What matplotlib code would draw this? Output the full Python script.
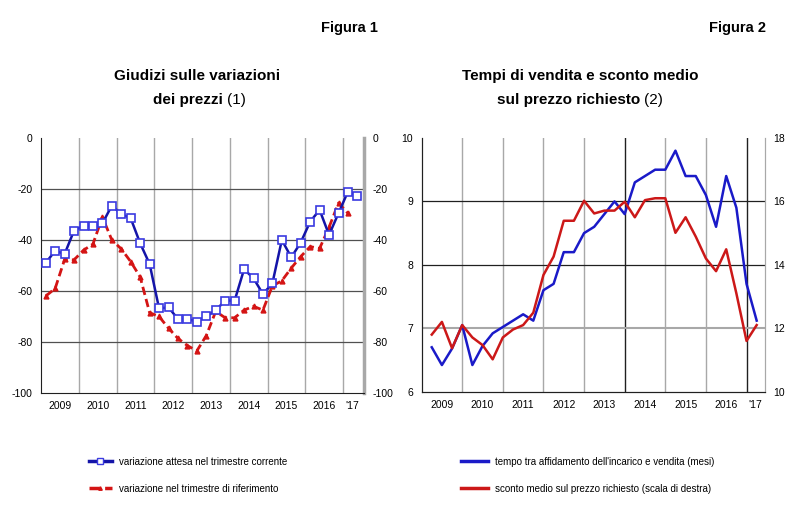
import numpy as np
import matplotlib.pyplot as plt
from matplotlib.lines import Line2D

plt.rcParams['font.family'] = ['Liberation Sans Narrow', 'Liberation Sans', 'DejaVu Sans']
plt.rcParams['axes.unicode_minus'] = False

# =========================
# Dati (trimestrali)
# =========================
anni = ['2009', '2010', '2011', '2012', '2013', '2014', '2015', '2016', "'17"]

# Figura 1: 2009T1-2017T2 (attesa), 2009T1-2017T1 (riferimento)
var_attesa = [-49, -44.2, -45.5, -36.3,
              -34.5, -34.5, -33.5, -26.5,
              -29.8, -31.5, -41.3, -49.4,
              -66.8, -66.4, -71, -71,
              -72, -70, -67.5, -63.8,
              -63.8, -51.5, -55, -61.2,
              -57, -40, -46.8, -41,
              -32.8, -28.2, -38, -29.5,
              -21, -22.7]
var_riferimento = [-62, -59, -47.6, -47.8,
                   -44, -41.6, -31, -40,
                   -43.5, -48.5, -54.5, -68.5,
                   -70, -74.6, -78.6, -81.4,
                   -83.5, -77.5, -68, -70.5,
                   -70.5, -67.5, -66, -67.5,
                   -58, -56, -51, -46.5,
                   -42.6, -43.3, -35, -25.5,
                   -29.5]

# Figura 2: 2009T1-2017T1
tempo_vendita = [6.70, 6.42, 6.68, 7.05,
                 6.42, 6.72, 6.92, 7.02,
                 7.12, 7.22, 7.12, 7.6,
                 7.7, 8.2, 8.2, 8.5,
                 8.6, 8.8, 9.0, 8.8,
                 9.3, 9.4, 9.5, 9.5,
                 9.8, 9.4, 9.4, 9.1,
                 8.6, 9.4, 8.9, 7.7,
                 7.12]
sconto_medio = [11.8, 12.2, 11.37, 12.1,
                11.71, 11.47, 11.02, 11.71,
                11.96, 12.1, 12.49, 13.68,
                14.26, 15.39, 15.39, 16.02,
                15.62, 15.71, 15.71, 15.99,
                15.5, 16.04, 16.1, 16.1,
                15.01, 15.5, 14.89, 14.2,
                13.8, 14.49, 13.1, 11.6,
                12.1]

blu = '#1414a8'
rosso = '#d41414'
fs_tick = 7.5

fig = plt.figure(figsize=(8, 5.09), dpi=100)

# =========================
# Figura 1
# =========================
ax1 = fig.add_axes([0.05125, 0.2279, 0.40375, 0.501])
x_att = np.arange(len(var_attesa)) + 0.5
x_rif = np.arange(len(var_riferimento)) + 0.5

for q in range(4, 33, 4):
    ax1.axvline(q, color='#a8a8a8', lw=1.0, zorder=1)
for v in [-20, -40, -60, -80]:
    ax1.axhline(v, color='#505050', lw=0.9, zorder=1)

ax1.plot(x_rif, var_riferimento, color=rosso, lw=2, ls=(0, (3, 1.5)),
         marker='^', ms=3.5, mfc=rosso, mec=rosso, zorder=3)
ax1.plot(x_att, var_attesa, color=blu, lw=1.8, marker='s', ms=5.6,
         mfc='white', mec='#3a3ae0', mew=1.2, zorder=4)

ax1.set_xlim(0, 34.2)
ax1.set_ylim(-100, 0)
ax1.set_yticks([0, -20, -40, -60, -80, -100])
ax1.set_xticks(list(np.arange(2, 32, 4)) + [33], anni)
ax1.tick_params(length=0, labelsize=fs_tick, labelright=True, pad=6)
ax1.spines['top'].set_visible(False)
ax1.spines['right'].set_color('#a8a8a8')
ax1.spines['right'].set_linewidth(2.5)
ax1.spines['left'].set_color('#202020')
ax1.spines['bottom'].set_color('#202020')

# =========================
# Figura 2
# =========================
ax2 = fig.add_axes([0.527, 0.2305, 0.429, 0.4984])
ax2b = ax2.twinx()
x2 = np.arange(len(tempo_vendita)) + 1.0

for q in range(4, 33, 4):
    c = '#202020' if q in (20, 32) else '#a8a8a8'
    ax2.axvline(q, color=c, lw=1.0, zorder=1)
ax2.axhline(9, color='#202020', lw=0.9, zorder=1)
ax2.axhline(8, color='#202020', lw=0.9, zorder=1)
ax2.axhline(7, color='#a8a8a8', lw=1.5, zorder=1)

ax2.plot(x2, tempo_vendita, color='#1a1ac8', lw=1.8, zorder=3)
ax2b.plot(x2, sconto_medio, color='#cc1818', lw=1.8, zorder=3)

ax2.set_xlim(0, 33.8)
ax2.set_ylim(6, 10)
ax2b.set_ylim(10, 18)
ax2.set_yticks([6, 7, 8, 9, 10])
ax2b.set_yticks([10, 12, 14, 16, 18])
ax2.set_xticks(list(np.arange(2, 32, 4)) + [32.9], anni)
ax2.tick_params(length=0, labelsize=fs_tick, pad=6)
ax2b.tick_params(length=0, labelsize=fs_tick, pad=6)
for a in (ax2, ax2b):
    a.spines['top'].set_visible(False)
    a.spines['right'].set_color('#a8a8a8')
    a.spines['left'].set_color('#202020')
    a.spines['bottom'].set_color('#202020')

# =========================
# Titoli
# =========================
fig.text(0.472, 0.945, 'Figura 1', fontsize=10.5, fontweight='bold', ha='right', va='center')
fig.text(0.958, 0.945, 'Figura 2', fontsize=10.5, fontweight='bold', ha='right', va='center')

fig.text(0.246, 0.851, 'Giudizi sulle variazioni', fontsize=11, fontweight='bold', ha='center', va='center')
fig.text(0.279, 0.803, 'dei prezzi', fontsize=11, fontweight='bold', ha='right', va='center')
fig.text(0.284, 0.803, '(1)', fontsize=11, ha='left', va='center')

fig.text(0.725, 0.851, 'Tempi di vendita e sconto medio', fontsize=11, fontweight='bold', ha='center', va='center')
fig.text(0.800, 0.803, 'sul prezzo richiesto', fontsize=11, fontweight='bold', ha='right', va='center')
fig.text(0.805, 0.803, '(2)', fontsize=11, ha='left', va='center')

# =========================
# Legende
# =========================
h1 = [Line2D([], [], color=blu, lw=2.5, marker='s', ms=5, mfc='white', mec='#3a3ae0'),
      Line2D([], [], color=rosso, lw=2.5, ls=(0, (3, 1.5)), marker='^', ms=2.5)]
fig.legend(h1, ['variazione attesa nel trimestre corrente',
                'variazione nel trimestre di riferimento'],
           loc='upper left', bbox_to_anchor=(0.1, 0.12), frameon=False,
           fontsize=7, handlelength=2.4, labelspacing=1.75, handletextpad=0.7)
h2 = [Line2D([], [], color='#1a1ac8', lw=2.5), Line2D([], [], color='#cc1818', lw=2.5)]
fig.legend(h2, ["tempo tra affidamento dell'incarico e vendita (mesi)",
                'sconto medio sul prezzo richiesto (scala di destra)'],
           loc='upper left', bbox_to_anchor=(0.565, 0.12), frameon=False,
           fontsize=7, handlelength=2.8, labelspacing=1.75, handletextpad=0.7)

fig.savefig('out.png', dpi=100)
